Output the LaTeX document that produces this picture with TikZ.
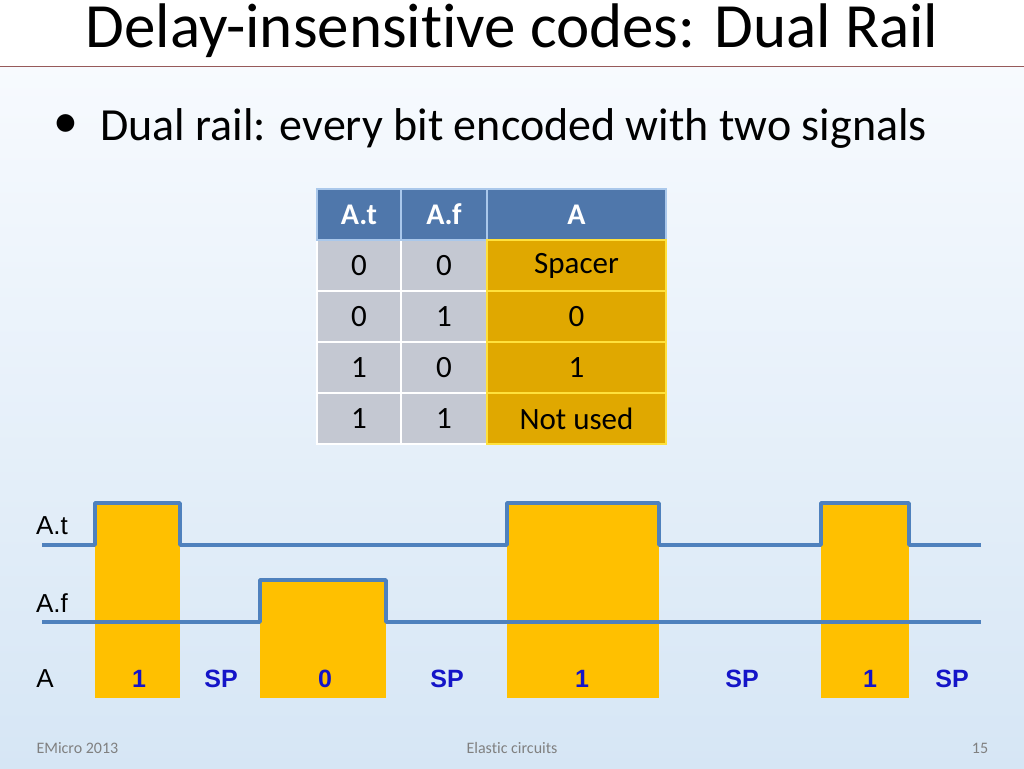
\documentclass[tikz,border=0pt]{standalone}
\usepackage{fontspec}
\setmainfont[Ligatures=NoCommon]{Carlito}
\newfontfamily\arialb{Liberation Sans}
\definecolor{hdblue}{RGB}{79,119,171}
\definecolor{hdedge}{RGB}{170,200,235}
\definecolor{grayc}{RGB}{196,200,210}
\definecolor{yedge}{RGB}{255,225,60}
\definecolor{yfill}{RGB}{224,168,0}
\definecolor{sigc}{RGB}{79,129,189}
\definecolor{goldc}{RGB}{255,192,0}
\definecolor{valc}{RGB}{20,20,200}
\definecolor{rulec}{RGB}{150,90,90}
\definecolor{bgtop}{RGB}{250,252,255}
\definecolor{bgbot}{RGB}{214,230,245}
\begin{document}
\begin{tikzpicture}[x=1pt,y=-1pt,
 hd/.style={draw=hdedge,line width=2pt,fill=hdblue,inner sep=0,font=\fontsize{30}{30}\selectfont\bfseries,text=white},
 gc/.style={draw=white,line width=2pt,fill=grayc,inner sep=0},
 yc/.style={draw=yedge,line width=2pt,fill=yfill,inner sep=0,font=\fontsize{31}{31}\selectfont},
 sig/.style={draw=sigc,line width=3.5pt,line join=round},
 gold/.style={fill=goldc},
 lbl/.style={font=\fontsize{26}{26}\selectfont\arialb},
 val/.style={font=\fontsize{25}{25}\selectfont\arialb\bfseries,text=valc},
 ft/.style={font=\fontsize{16}{16}\selectfont,text=gray}]
\shade[top color=bgtop,bottom color=bgbot] (0,0) rectangle (1024,768);
\useasboundingbox (0,0) rectangle (1024,768);
\fill[white] (0,0) rectangle (1024,66);
\draw[rulec,line width=1pt] (0,66) -- (1024,66);
\node (title) at (512,31) {\fontsize{63}{63}\selectfont Delay-insensitive codes: Dual Rail};
\node (dot) at (66,126) {\fontsize{50}{50}\selectfont\textbullet};
\node[anchor=west,inner sep=0] (bul) at (100,128) {\fontsize{46}{46}\selectfont Dual rail: every bit encoded with two signals};
% table
\foreach \x/\w/\n in {316/84/c1,400/86/c2}{
 \foreach \y/\r in {239/1,290/2,341/3,392/4}{
  \node[gc,minimum width=\w,minimum height=51,anchor=north west] (\n r\r) at (\x,\y) {};
 }}
\node[hd,minimum width=84,minimum height=51,anchor=north west] (h1) at (316,188) {A.t};
\node[hd,minimum width=86,minimum height=51,anchor=north west] (h2) at (400,188) {A.f};
\node[hd,minimum width=179,minimum height=51,anchor=north west] (h3) at (486,188) {A};
\foreach \r/\a/\b/\c in {1/0/0/Spacer,2/0/1/0,3/1/0/1,4/1/1/Not used}{
 \node at (c1r\r) {\fontsize{31}{31}\selectfont\a};
 \node at (c2r\r) {\fontsize{31}{31}\selectfont\b};
 \node[yc,minimum width=179,minimum height=51,anchor=north west] (c3r\r) at (486,188+51*\r) {\c};
}
% gold boxes
\fill[gold] (95,502) rectangle (180,698);
\fill[gold] (260,578) rectangle (386,698);
\fill[gold] (507,502) rectangle (659,698);
\fill[gold] (821,502) rectangle (909,698);
% signals
\draw[sig] (42,545) -- (95,545) -- (95,503) -- (180,503) -- (180,545) -- (507,545) -- (507,503) -- (659,503) -- (659,545) -- (821,545) -- (821,503) -- (909,503) -- (909,545) -- (981,545);
\draw[sig] (42,622) -- (260,622) -- (260,580) -- (386,580) -- (386,622) -- (981,622);
\node[lbl] (lt) at (52,526) {A.t};
\node[lbl] (lf) at (52,603) {A.f};
\node[lbl] (la) at (45,679) {A};
\foreach \x/\t in {139/1,221/SP,325/0,447/SP,582/1,742/SP,870/1,952/SP}{
 \node[val] at (\x,679) {\t};
}
\node[ft,anchor=west] (f1) at (33,748) {EMicro 2013};
\node[ft] (f2) at (512,748) {Elastic circuits};
\node[ft] (f3) at (980,748) {15};
\end{tikzpicture}
\end{document}
